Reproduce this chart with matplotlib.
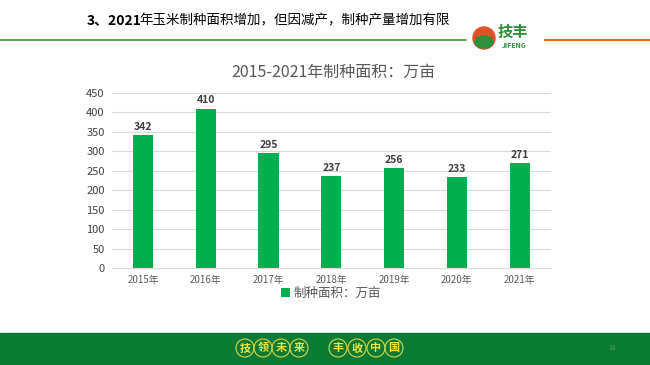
import matplotlib
matplotlib.use("Agg")
import matplotlib.pyplot as plt
from matplotlib.patches import Rectangle, Ellipse

plt.rcParams['font.family'] = ['Noto Sans CJK SC', 'DejaVu Sans']

years = ["2015年", "2016年", "2017年", "2018年", "2019年", "2020年", "2021年"]
areas = [342, 410, 295, 237, 256, 233, 271]
yticks = [0, 50, 100, 150, 200, 250, 300, 350, 400, 450]
title_bold = "3、2021"
title_rest = "年玉米制种面积增加，但因减产，制种产量增加有限"
chart_title = "2015-2021年制种面积：万亩"
legend_label = "制种面积：万亩"
slogan = ["技", "领", "未", "来", "丰", "收", "中", "国"]

W, H = 650, 365
fig = plt.figure(figsize=(6.5, 3.65), dpi=100)

def fx(px):
    return px / W

def fy(py):
    return 1 - py / H

# Header title in two parts
t1 = fig.text(fx(87), fy(20), title_bold, ha='left', va='center', fontsize=10,
              fontweight='bold', color='black')
fig.canvas.draw()
bb = t1.get_window_extent()
fig.text(bb.x1 / W - fx(2.5), fy(20), title_rest, ha='left', va='center', fontsize=9.7,
         color='black')

fig.add_artist(plt.Line2D([0, fx(466)], [fy(40), fy(40)], color='#3a9a3a', lw=1.2))
fig.add_artist(plt.Line2D([fx(545), 1], [fy(40), fy(40)], color='#e06a20', lw=1.5))
# logo
fig.add_artist(Ellipse((fx(484), fy(38)), fx(22), fy(0) - fy(22),
                       color='#e0502a', transform=fig.transFigure))
fig.add_artist(Ellipse((fx(484), fy(42)), fx(18), fy(0) - fy(12),
                       color='#2f8f3a', transform=fig.transFigure))
fig.text(fx(513), fy(32), "技丰", ha='center', va='center', fontsize=11,
         fontweight='bold', color='#2f8f3a')
fig.text(fx(514), fy(45), "JIFENG", ha='center', va='center', fontsize=5,
         fontweight='bold', color='#2f8f3a')

# Footer
fig.add_artist(Rectangle((0, 0), 1, fy(333), color='#0b7a34',
                         transform=fig.transFigure, zorder=0))
xs = [245, 263, 281, 299, 338, 357, 376, 394]
for x, ch in zip(xs, slogan):
    fig.add_artist(Ellipse((fx(x), fy(348)), fx(18), fy(0) - fy(18), facecolor='none',
                           edgecolor='#d8d840', lw=0.8, transform=fig.transFigure))
    fig.text(fx(x), fy(348), ch, ha='center', va='center', fontsize=8,
             fontweight='bold', color='#f0e640')
fig.text(fx(612), fy(348), "18", ha='center', va='center', fontsize=5, color='#5aa070')

# Chart
ax = fig.add_axes([fx(111.6), fy(268), fx(551) - fx(111.6), fy(93) - fy(268)])
x = list(range(len(years)))
bars = ax.bar(x, areas, width=0.32, color='#00b050', zorder=3)
ax.set_xlim(-0.5, len(years) - 0.5)
ax.set_ylim(0, 450)
ax.set_yticks(yticks)
ax.set_yticklabels([str(t) for t in yticks], fontsize=8, color='#404040')
ax.set_xticks(x)
ax.set_xticklabels(years, fontsize=7, color='#595959')
ax.grid(axis='y', color='#d9d9d9', lw=0.8, zorder=0)
for s in ['top', 'right', 'left']:
    ax.spines[s].set_visible(False)
ax.spines['bottom'].set_color('#d9d9d9')
ax.tick_params(length=0, pad=5)
ax.tick_params(axis='x', pad=5)
for xi, v in zip(x, areas):
    ax.text(xi, v + 8, str(v), ha='center', va='bottom', fontsize=7.5,
            fontweight='bold', color='#404040')

fig.text(fx(333), fy(72), chart_title, ha='center', va='center', fontsize=11.5,
         color='#595959')

ax.legend([bars], [legend_label], loc='center', bbox_to_anchor=(0.5, -0.145),
          frameon=False, fontsize=9, handlelength=0.7, handleheight=0.7,
          handletextpad=0.3, labelcolor='#595959')

fig.savefig("out.png", dpi=100)
